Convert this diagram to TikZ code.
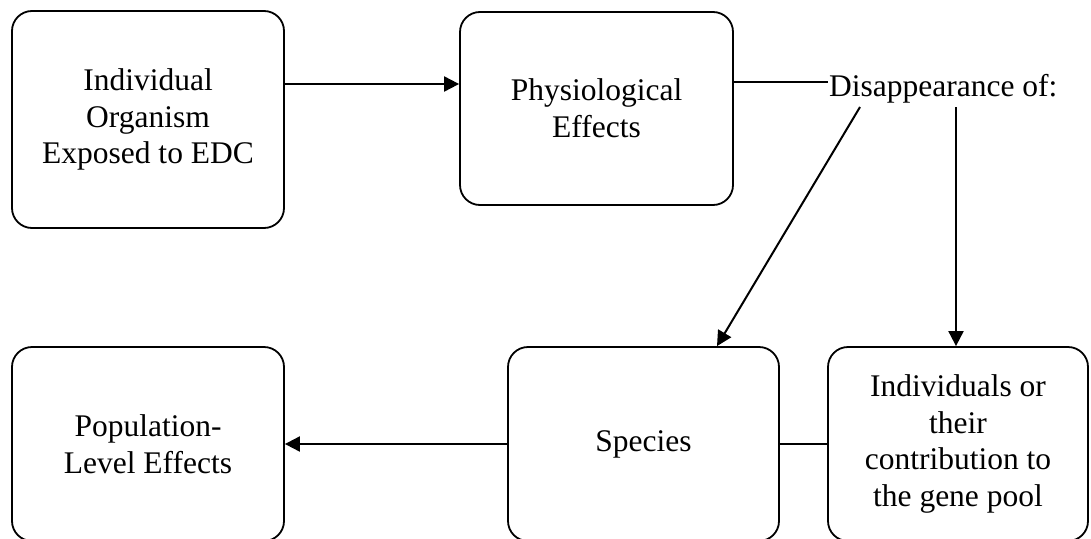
\documentclass[tikz,border=0pt]{standalone}
\usepackage{fontspec}
\setmainfont{Liberation Serif}
\usetikzlibrary{arrows.meta,calc}

\begin{document}
\begin{tikzpicture}[
    x=1pt, y=1pt,
    font=\fontsize{31.5}{36.7}\selectfont,
    blk/.style={draw, line width=1.8pt, rounded corners=20pt, align=center, inner sep=0pt},
    arr/.style={line width=2pt, -{Triangle[length=15pt,width=15pt]}},
    conn/.style={line width=2pt}
]
\useasboundingbox (0,0) rectangle (1091,-538);

% === Top row ===
\node[blk, minimum width=272pt, minimum height=217pt] (org) at (148,-119.5)
    {Individual\\Organism\\Exposed to EDC};
\node[blk, minimum width=273pt, minimum height=193pt] (phys) at (596.5,-108.5)
    {Physiological\\Effects};

% label on the right
\node[anchor=west, inner sep=0pt] (disap) at (829,-89) {Disappearance of:};
\coordinate (dl) at (828,-82);
\coordinate (ds) at (860,-107);
\coordinate (dv) at (956,-107);

% === Bottom row ===
\node[blk, minimum width=272pt, minimum height=194pt] (pop) at (148,-444)
    {Population-\\Level Effects};
\node[blk, minimum width=271pt, minimum height=194pt] (spec) at (643.5,-444)
    {Species};
\node[blk, minimum width=260pt, minimum height=194pt] (indiv) at (958,-444)
    {Individuals or\\their\\contribution to\\the gene pool};

% connectors
\draw[arr] ([yshift=35.5pt]org.east) -- ([yshift=35.5pt]org.east -| phys.west);
\draw[conn] (phys.east |- dl) -- (dl);
\draw[arr] (ds) -- ($(spec.north)+(73.5,0)$);
\draw[arr] (dv) -- (dv |- indiv.north);
\draw[conn] (indiv.west) -- (spec.east);
\draw[arr] (spec.west) -- (pop.east);

\end{tikzpicture}
\end{document}
